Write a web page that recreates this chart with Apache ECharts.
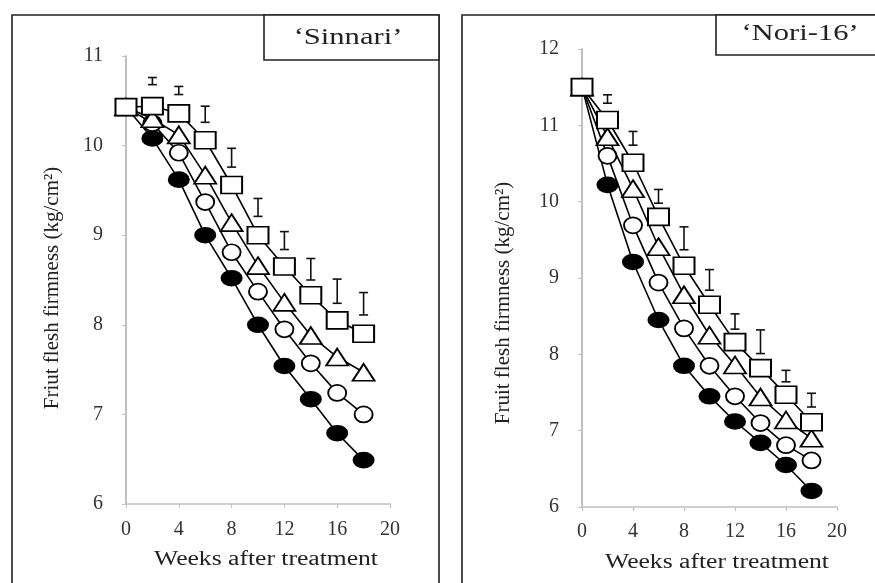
<!DOCTYPE html>
<html>
<head>
<meta charset="utf-8">
<script src="https://cdn.jsdelivr.net/npm/echarts@6/dist/echarts.min.js"></script>
<style>
  html, body { margin: 0; padding: 0; background: #fff; }
  #chart { width: 875px; height: 583px; }
</style>
</head>
<body>
<div id="chart"></div>
<script>
// weeks after treatment
const weeks = [0, 2, 4, 6, 8, 10, 12, 14, 16, 18]
const xTicks = [0, 4, 8, 12, 16, 20]

// 'Sinnari' firmness (kg/cm2)
const sinSquare = [10.43, 10.44, 10.36, 10.06, 9.56, 9.0, 8.65, 8.33, 8.05, 7.9]
const sinTriangle = [10.43, 10.3, 10.12, 9.67, 9.14, 8.66, 8.25, 7.88, 7.64, 7.47]
const sinCircle = [10.43, 10.25, 9.92, 9.37, 8.81, 8.37, 7.95, 7.57, 7.24, 7.0]
const sinFilled = [10.43, 10.08, 9.62, 9.0, 8.52, 8.0, 7.54, 7.17, 6.79, 6.49]
// LSD bars: [week, low, high]
const sinLsd = [[2, 10.68, 10.76], [4, 10.57, 10.66], [6, 10.26, 10.44], [8, 9.76, 9.97], [10, 9.21, 9.41],
  [12, 8.84, 9.04], [14, 8.5, 8.74], [16, 8.24, 8.51], [18, 8.11, 8.36]]

// 'Nori-16' firmness (kg/cm2)
const norSquare = [11.5, 11.07, 10.51, 9.8, 9.16, 8.65, 8.16, 7.82, 7.47, 7.11]
const norTriangle = [11.5, 10.85, 10.17, 9.41, 8.78, 8.25, 7.86, 7.44, 7.14, 6.9]
const norCircle = [11.5, 10.6, 9.69, 8.94, 8.34, 7.85, 7.45, 7.1, 6.81, 6.61]
const norFilled = [11.5, 10.22, 9.21, 8.45, 7.85, 7.45, 7.12, 6.84, 6.55, 6.21]
const norLsd = [[2, 11.29, 11.4], [4, 10.74, 10.92], [6, 9.98, 10.16], [8, 9.37, 9.67], [10, 8.84, 9.11],
  [12, 8.33, 8.53], [14, 8.01, 8.32], [16, 7.64, 7.79], [18, 7.31, 7.49]]

const serif = '"Liberation Serif", "DejaVu Serif", serif'
const axisGray = '#c0c0c0'

const chart = echarts.init(document.getElementById('chart'))

function pair (ys) {
  return weeks.map((w, i) => [w, ys[i]])
}

// 折线 + 标记
function lineSeries (idx, ys, symbol, size, filled, z) {
  return {
    type: 'line',
    xAxisIndex: idx,
    yAxisIndex: idx,
    data: pair(ys),
    symbol: symbol,
    symbolSize: size,
    showAllSymbol: true,
    z: z,
    lineStyle: { color: '#000', width: 1.6 },
    itemStyle: {
      color: filled ? '#000' : '#fff',
      borderColor: '#000',
      borderWidth: 1.8
    },
    emphasis: { disabled: true },
    animation: false
  }
}

// LSD "I" bars
function lsdSeries (idx, data) {
  return {
    type: 'custom',
    xAxisIndex: idx,
    yAxisIndex: idx,
    data: data,
    z: 10,
    animation: false,
    renderItem (params, api) {
      const lo = api.coord([api.value(0), api.value(1)])
      const hi = api.coord([api.value(0), api.value(2)])
      const w = 4.5
      const style = { stroke: '#111', lineWidth: 1.6 }
      return {
        type: 'group',
        children: [
          { type: 'line', shape: { x1: lo[0], y1: lo[1], x2: hi[0], y2: hi[1] }, style },
          { type: 'line', shape: { x1: hi[0] - w, y1: hi[1], x2: hi[0] + w, y2: hi[1] }, style },
          { type: 'line', shape: { x1: lo[0] - w, y1: lo[1], x2: lo[0] + w, y2: lo[1] }, style }
        ]
      }
    }
  }
}

function xAxis (idx, margin) {
  return {
    type: 'value',
    gridIndex: idx,
    min: 0,
    max: 20,
    interval: 4,
    axisLine: { lineStyle: { color: axisGray, width: 1.5 } },
    axisTick: { show: true, length: 4, lineStyle: { color: axisGray } },
    splitLine: { show: false },
    axisLabel: { fontFamily: serif, fontSize: 20, color: '#333', margin: margin }
  }
}

function yAxis (idx, min, max) {
  return {
    type: 'value',
    gridIndex: idx,
    min: min,
    max: max,
    interval: 1,
    axisLine: { show: true, lineStyle: { color: axisGray, width: 2 } },
    axisTick: { show: true, length: 4, lineStyle: { color: axisGray } },
    splitLine: { show: false },
    axisLabel: { fontFamily: serif, fontSize: 20, color: '#333', margin: 23 }
  }
}

function label (text, x, y, size, scaleX, rotate) {
  return {
    type: 'text',
    x: x,
    y: y,
    scaleX: scaleX,
    rotation: rotate ? Math.PI / 2 : 0,
    z: 2,
    style: { text: text, align: 'center', verticalAlign: 'middle', fontFamily: serif, fontSize: size, fill: '#222' }
  }
}

const option = {
  backgroundColor: '#fff',
  animation: false,
  grid: [
    { left: 126, top: 56, right: 485, bottom: 79 },
    { left: 582, top: 49, right: 38, bottom: 76 }
  ],
  xAxis: [xAxis(0, 16), xAxis(1, 15)],
  yAxis: [yAxis(0, 6, 11), yAxis(1, 6, 12)],
  graphic: [
    // 外框
    { type: 'rect', shape: { x: 12, y: 15, width: 427, height: 600 }, style: { fill: 'none', stroke: '#222', lineWidth: 1.6 }, z: 0 },
    { type: 'rect', shape: { x: 462, y: 15, width: 430, height: 600 }, style: { fill: 'none', stroke: '#222', lineWidth: 1.6 }, z: 0 },
    // 品种标签框
    { type: 'rect', shape: { x: 264, y: 15, width: 175, height: 45 }, style: { fill: '#fff', stroke: '#222', lineWidth: 1.6 }, z: 1 },
    label('‘Sinnari’', 348, 38, 23, 1.33, false),
    { type: 'rect', shape: { x: 716, y: 15, width: 175, height: 40 }, style: { fill: '#fff', stroke: '#222', lineWidth: 1.6 }, z: 1 },
    label('‘Nori-16’', 800, 34, 23, 1.33, false),
    // 坐标轴名称
    label('Friut flesh firmness (kg/cm²)', 52, 288, 21, 1, true),
    label('Fruit flesh firmness (kg/cm²)', 503, 303, 21, 1, true),
    label('Weeks after treatment', 266, 560, 20, 1.28, false),
    label('Weeks after treatment', 717, 563, 20, 1.28, false)
  ],
  series: [
    lineSeries(0, sinFilled, 'circle', [20, 15], true, 2),
    lineSeries(0, sinCircle, 'circle', [18, 16], false, 3),
    lineSeries(0, sinTriangle, 'triangle', [22, 17], false, 4),
    lineSeries(0, sinSquare, 'rect', [21, 17], false, 5),
    lsdSeries(0, sinLsd),
    lineSeries(1, norFilled, 'circle', [20, 15], true, 2),
    lineSeries(1, norCircle, 'circle', [18, 16], false, 3),
    lineSeries(1, norTriangle, 'triangle', [22, 17], false, 4),
    lineSeries(1, norSquare, 'rect', [21, 17], false, 5),
    lsdSeries(1, norLsd)
  ]
}

chart.setOption(option)
</script>
</body>
</html>
